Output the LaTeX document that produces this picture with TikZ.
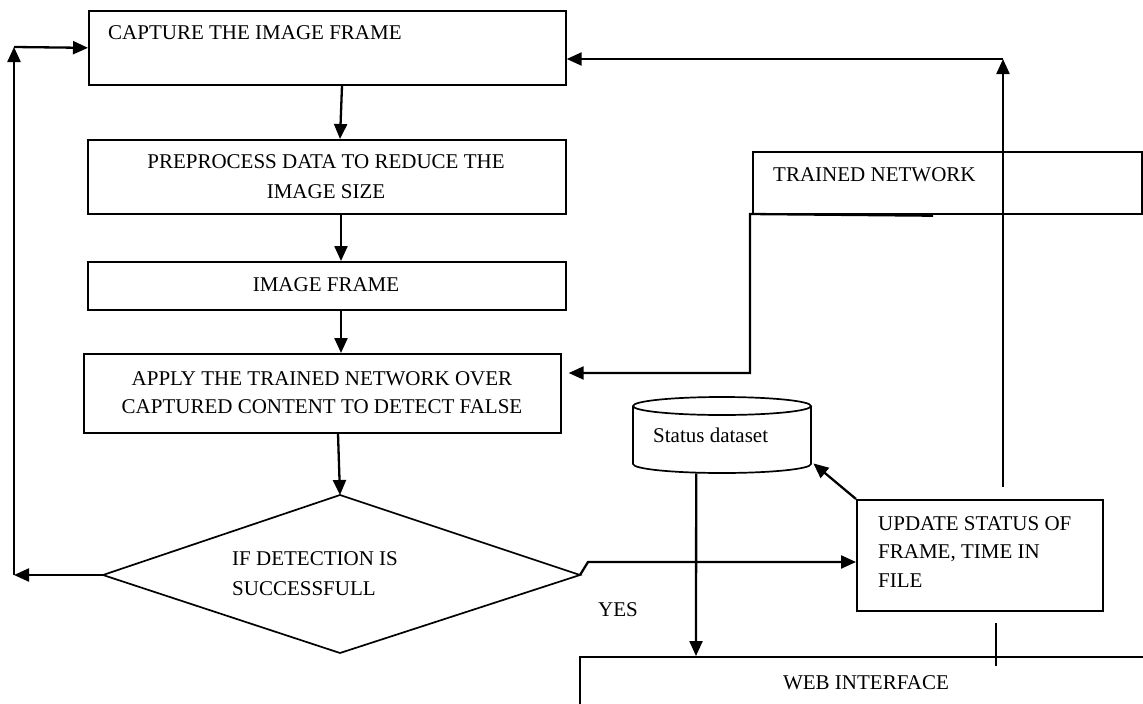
\documentclass[tikz,border=0pt]{standalone}
\usepackage{fontspec}
\setmainfont{Liberation Serif}
\usetikzlibrary{arrows.meta,calc}

\tikzset{
  box/.style={draw, line width=1.7pt, inner sep=0pt, anchor=north west},
  txt/.style={inner sep=0pt, font=\fontsize{21}{30}\selectfont},
  link/.style={line width=2.3pt},
  arr/.style={link, -{Triangle[length=15pt,width=13pt]}},
}

\begin{document}
\begin{tikzpicture}[x=1pt, y=-1pt]
  \clip (0,0) rectangle (1143,704);
  \fill[white] (0,0) rectangle (1143,704);

  % main column of process boxes
  \node[box, minimum width=477pt, minimum height=74pt] (cap) at (88,10) {};
  \node[txt, anchor=west] at (108,33) {CAPTURE THE IMAGE FRAME};

  \node[box, minimum width=478pt, minimum height=74pt] (pre) at (87,139) {};
  \node[txt, align=center] at (326,177) {PREPROCESS DATA TO REDUCE THE\\IMAGE SIZE};

  \node[box, minimum width=478pt, minimum height=48pt] (img) at (87,261) {};
  \node[txt] at (326,285) {IMAGE FRAME};

  \node[box, minimum width=477pt, minimum height=79pt] (app) at (83,353) {};
  \node[txt, align=center, font=\fontsize{21}{28}\selectfont] at (322,393) {APPLY THE TRAINED NETWORK OVER\\CAPTURED CONTENT TO DETECT FALSE};

  % decision
  \path (340,495) coordinate (dn) (580,575) coordinate (de)
        (340,653) coordinate (ds) (103,575) coordinate (dw);
  \draw[line width=1.7pt] (dn) -- (de) -- (ds) -- (dw) -- cycle;
  \node[txt, align=left, anchor=west] (dia) at (232,574) {IF DETECTION IS\\SUCCESSFULL};

  % trained network store
  \node[box, minimum width=389pt, minimum height=62pt] (tn) at (752,151) {};
  \node[txt, anchor=west] at (773,175) {TRAINED NETWORK};

  % status dataset (cylinder)
  \node[inner sep=0pt, minimum width=178pt, minimum height=76pt, anchor=north west] (db) at (633,397) {};
  \draw[line width=1.7pt] (633,406) -- (633,464)
        arc[start angle=180, end angle=0, x radius=89, y radius=9] -- (811,406);
  \draw[line width=1.7pt] (722,406) ellipse[x radius=89, y radius=9];
  \node[txt, anchor=west] at (653,435) {Status dataset};

  % update box
  \node[box, minimum width=246pt, minimum height=111pt] (upd) at (856,499) {};
  \node[txt, align=left, anchor=west, font=\fontsize{21}{28.5}\selectfont] at (878,552) {UPDATE STATUS OF\\FRAME, TIME IN\\FILE};

  % web interface
  \node[box, minimum width=600pt, minimum height=120pt] (web) at (579,656) {};
  \node[txt] at (866,683) {WEB INTERFACE};

  \node[txt] at (618,610) {YES};

  % main flow
  \draw[arr] ($(cap.south west)+(254,0)$) -- ($(pre.north west)+(253,0)$);
  \draw[arr] ($(pre.south west)+(254,0)$) -- ($(img.north west)+(254,0)$);
  \draw[arr] ($(img.south west)+(254,0)$) -- ($(app.north west)+(258,0)$);
  \draw[arr] ($(app.south west)+(255,0)$) -- (dn);

  % failure loop back to capture
  \coordinate (lbot) at (14,575);
  \coordinate (ltop) at (14,47);
  \draw[arr] (dw) -- (lbot);
  \draw[arr] (lbot) -- (ltop);
  \draw[arr] (ltop) -- (cap.west);

  % success path
  \coordinate (dbend) at (588,562);
  \draw[arr] (de) -- (dbend) -- (upd.west |- dbend);
  \draw[arr] (upd.north west) -- ($(db.south east)+(2,-10)$);

  % loop from update back to capture
  \coordinate (rbot) at (1003,487);
  \coordinate (rtop) at (1003,59);
  \draw[arr] (rbot) -- (rtop);
  \draw[arr] (rtop) -- (cap.east |- rtop);

  % trained network feeding the detector
  \draw[arr] ($(tn.south west)+(181,1)$) -- (750,214) -- (750,373)
             -- ($(app.north east)+(7,20)$);

  % dataset to web interface
  \draw[arr] ($(db.south)+(-26,0)$) -- ($(web.north west)+(117,0)$);

  % stub below the update box
  \coordinate (s1) at (996,623);
  \coordinate (s2) at (996,666);
  \draw[line width=1.7pt] (s1) -- (s2);
\end{tikzpicture}
\end{document}
